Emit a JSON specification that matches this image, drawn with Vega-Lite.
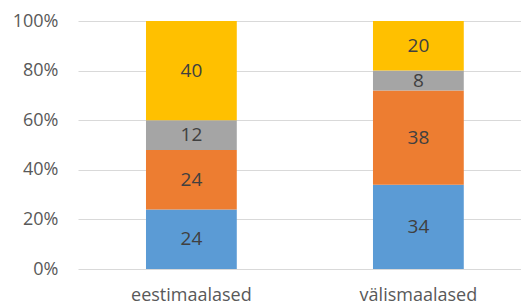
{
  "$schema": "https://vega.github.io/schema/vega-lite/v6.json",
  "autosize": "none",
  "width": 443,
  "height": 248,
  "padding": {"left": 78, "top": 21, "right": 0, "bottom": 38},
  "background": "white",
  "config": {"view": {"stroke": null}, "font": "Open Sans"},
  "data": {
    "values": [
      {"group": "eestimaalased", "series": "s1", "ord": 1, "value": 24},
      {"group": "eestimaalased", "series": "s2", "ord": 2, "value": 24},
      {"group": "eestimaalased", "series": "s3", "ord": 3, "value": 12},
      {"group": "eestimaalased", "series": "s4", "ord": 4, "value": 40},
      {"group": "välismaalased", "series": "s1", "ord": 1, "value": 34},
      {"group": "välismaalased", "series": "s2", "ord": 2, "value": 38},
      {"group": "välismaalased", "series": "s3", "ord": 3, "value": 8},
      {"group": "välismaalased", "series": "s4", "ord": 4, "value": 20}
    ]
  },
  "transform": [
    {"stack": "value", "groupby": ["group"], "sort": [{"field": "ord", "order": "ascending"}], "offset": "normalize", "as": ["v0", "v1"]},
    {"calculate": "(datum.v0 + datum.v1) / 2", "as": "vmid"}
  ],
  "encoding": {
    "x": {
      "field": "group", "type": "nominal", "sort": null,
      "scale": {"paddingInner": 0.6, "paddingOuter": 0.2758, "align": 0.543},
      "axis": {"title": null, "labelAngle": 0, "labelFontSize": 18, "labelColor": "#595959", "labelPadding": 17, "ticks": false, "domain": false, "labelFont": "Open Sans"}
    }
  },
  "layer": [
    {
      "mark": {"type": "bar"},
      "encoding": {
        "y": {
          "field": "v0", "type": "quantitative",
          "scale": {"domain": [0, 1], "nice": false},
          "axis": {"title": null, "format": ".0%", "values": [0, 0.2, 0.4, 0.6, 0.8, 1], "labelOverlap": false, "labelFlush": false, "labelBound": false, "labelFontSize": 18, "labelColor": "#595959", "labelPadding": 20, "ticks": false, "domain": false, "gridColor": "#D9D9D9", "gridWidth": 1, "labelFont": "Open Sans"}
        },
        "y2": {"field": "v1"},
        "color": {
          "field": "series", "type": "nominal", "legend": null,
          "scale": {"domain": ["s1", "s2", "s3", "s4"], "range": ["#5B9BD5", "#ED7D31", "#A5A5A5", "#FFC000"]}
        }
      }
    },
    {
      "mark": {"type": "text", "fontSize": 19, "color": "#404040", "baseline": "middle", "align": "center"},
      "encoding": {
        "y": {"field": "vmid", "type": "quantitative"},
        "text": {"field": "value", "type": "quantitative"}
      }
    }
  ]
}
